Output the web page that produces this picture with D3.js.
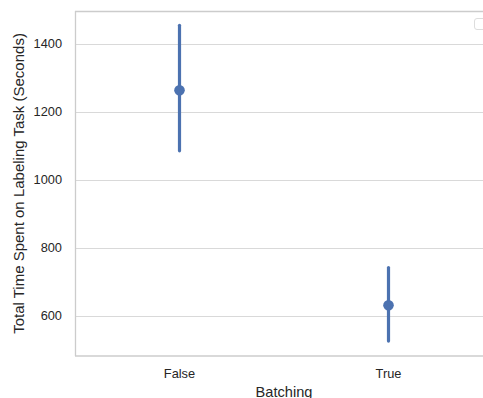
<!DOCTYPE html>
<html>
<head>
<meta charset="utf-8">
<script src="https://cdn.jsdelivr.net/npm/d3@7"></script>
<style>
  body { margin: 0; background: #fff; overflow: hidden; }
  text { font-family: "Liberation Sans", Arial, sans-serif; }
</style>
</head>
<body>
<div id="chart"></div>
<script>
const categories = ['False', 'True'];
const means = [1263, 631];
const ciLow = [1085, 526];
const ciHigh = [1454, 742];
const yTicks = [600, 800, 1000, 1200, 1400];

const width = 483;
const height = 398;
const margin = { top: 11, right: -10, bottom: 42, left: 75 };
const innerW = width - margin.left - margin.right;
const innerH = height - margin.top - margin.bottom;

const svg = d3.select('#chart')
  .append('svg')
  .attr('width', width)
  .attr('height', height);

const g = svg.append('g')
  .attr('transform', `translate(${margin.left},${margin.top})`);

const xScale = d3.scalePoint()
  .domain(categories)
  .range([0, innerW])
  .padding(0.5);

const yScale = d3.scaleLinear()
  .domain([482, 1496])
  .range([innerH, 0]);

// grid
g.selectAll('.grid')
  .data(yTicks)
  .enter()
  .append('line')
  .attr('x1', 0)
  .attr('x2', innerW)
  .attr('y1', d => Math.round(yScale(d)) + 0.5)
  .attr('y2', d => Math.round(yScale(d)) + 0.5)
  .attr('stroke', '#d9d9d9')
  .attr('stroke-width', 1.2);

// spines
g.append('line')
  .attr('x1', 0).attr('x2', innerW)
  .attr('y1', 0.5).attr('y2', 0.5)
  .attr('stroke', '#cccccc').attr('stroke-width', 1.3);
g.append('line')
  .attr('x1', 0).attr('x2', innerW)
  .attr('y1', innerH).attr('y2', innerH)
  .attr('stroke', '#cccccc').attr('stroke-width', 1.3);
g.append('line')
  .attr('x1', 0.5).attr('x2', 0.5)
  .attr('y1', 0).attr('y2', innerH)
  .attr('stroke', '#cccccc').attr('stroke-width', 1.3);

// y tick labels
g.selectAll('.ytick')
  .data(yTicks)
  .enter()
  .append('text')
  .attr('x', -13)
  .attr('y', d => yScale(d))
  .attr('dy', '0.35em')
  .attr('text-anchor', 'end')
  .attr('font-size', 12.8)
  .attr('fill', '#262626')
  .text(d => d);

// x tick labels
g.selectAll('.xtick')
  .data(categories)
  .enter()
  .append('text')
  .attr('x', d => xScale(d))
  .attr('y', innerH + 22)
  .attr('text-anchor', 'middle')
  .attr('font-size', 12.8)
  .attr('fill', '#262626')
  .text(d => d);

// axis titles
g.append('text')
  .attr('x', innerW / 2)
  .attr('y', innerH + 41)
  .attr('text-anchor', 'middle')
  .attr('font-size', 14.6)
  .attr('fill', '#262626')
  .text('Batching');

g.append('text')
  .attr('transform', `translate(${-margin.left + 24},${innerH / 2}) rotate(-90)`)
  .attr('text-anchor', 'middle')
  .attr('font-size', 15)
  .attr('fill', '#262626')
  .text('Total Time Spent on Labeling Task (Seconds)');

// error bars
g.selectAll('.err')
  .data(categories)
  .enter()
  .append('line')
  .attr('x1', d => xScale(d))
  .attr('x2', d => xScale(d))
  .attr('y1', (d, i) => yScale(ciLow[i]))
  .attr('y2', (d, i) => yScale(ciHigh[i]))
  .attr('stroke', '#4c72b0')
  .attr('stroke-width', 3.2)
  .attr('stroke-linecap', 'round');

g.selectAll('.pt')
  .data(categories)
  .enter()
  .append('circle')
  .attr('cx', d => xScale(d))
  .attr('cy', (d, i) => yScale(means[i]))
  .attr('r', 5.3)
  .attr('fill', '#4c72b0');

// empty legend box
svg.append('rect')
  .attr('x', 474.5)
  .attr('y', 18.5)
  .attr('width', 20)
  .attr('height', 11)
  .attr('rx', 2.5)
  .attr('fill', '#fff')
  .attr('stroke', '#dddddd')
  .attr('stroke-width', 1);
</script>
</body>
</html>
